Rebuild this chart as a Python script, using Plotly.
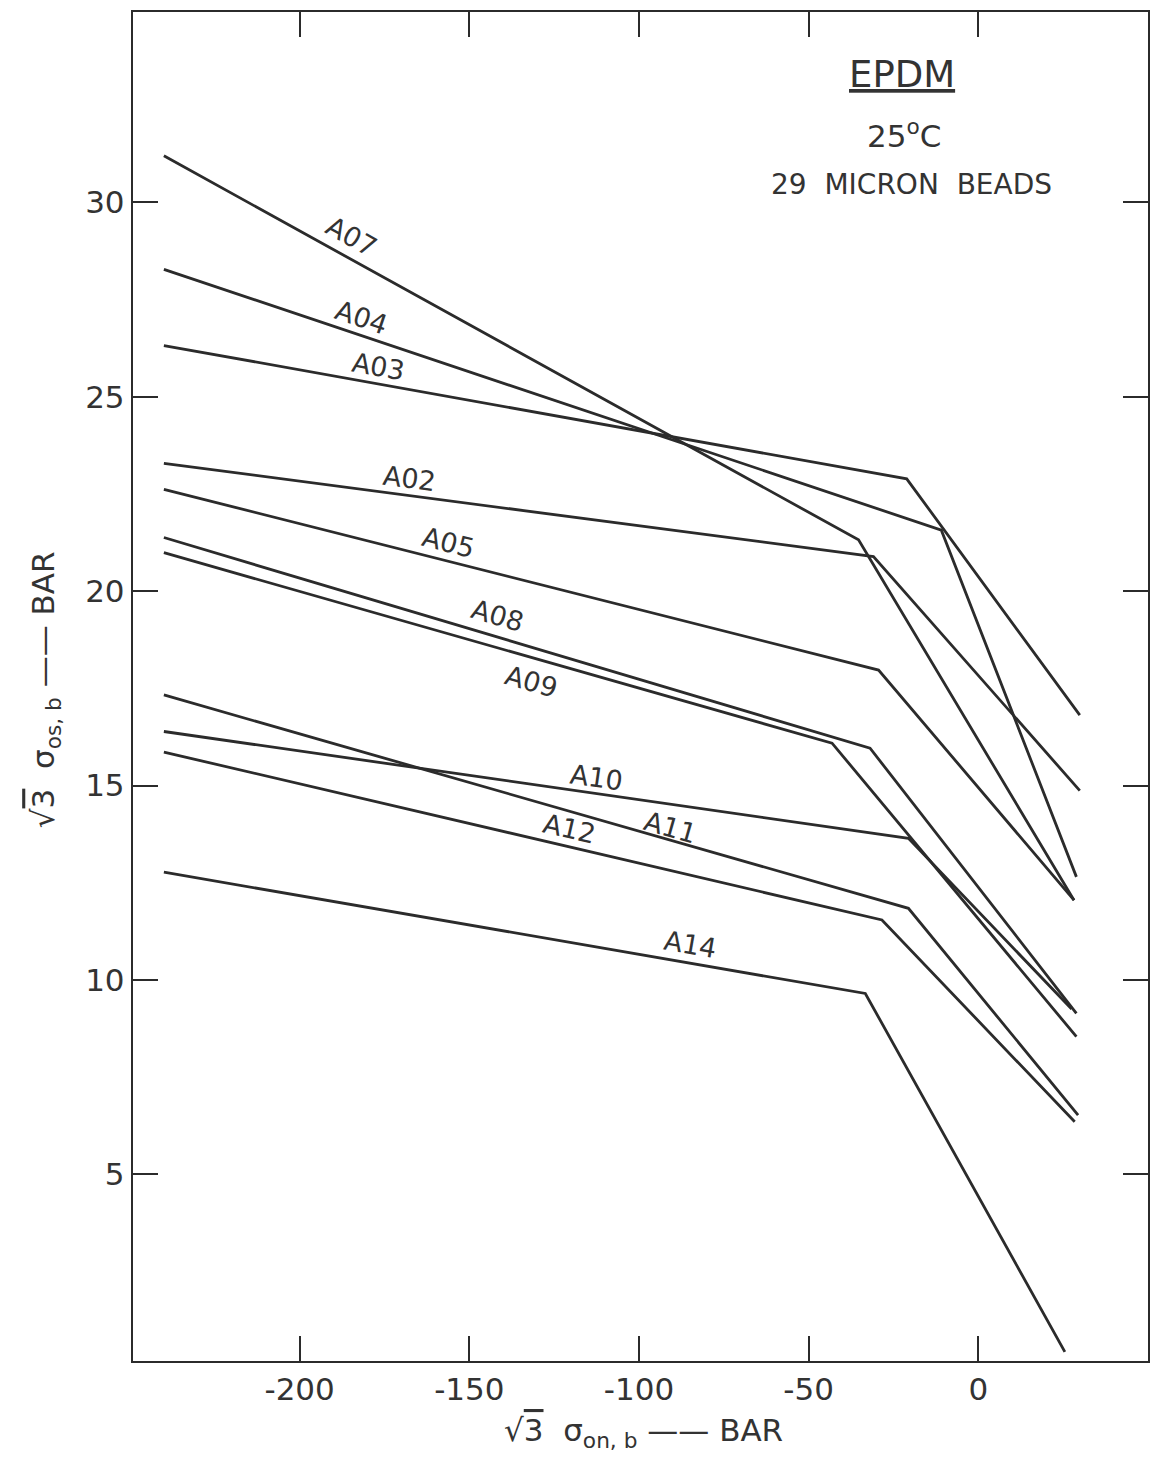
import plotly.graph_objects as go

# Bead-test envelopes for EPDM: each run is a three-point polyline
# (start, knee, end) in sqrt(3)*sigma_on,b vs sqrt(3)*sigma_os,b, bar.
series_names = ["A07", "A04", "A03", "A02", "A05", "A08", "A09", "A10", "A11", "A12", "A14"]

a07_x = [-240, -35.3, 28.2]
a07_y = [31.2, 21.32, 12.05]
a04_x = [-240, -10.9, 28.9]
a04_y = [28.28, 21.57, 12.65]
a03_x = [-240, -21.1, 29.9]
a03_y = [26.32, 22.89, 16.81]
a02_x = [-240, -30.9, 29.9]
a02_y = [23.29, 20.89, 14.87]
a05_x = [-240, -29.4, 28.2]
a05_y = [22.62, 17.97, 12.05]
a08_x = [-240, -31.9, 28.9]
a08_y = [21.38, 15.96, 9.14]
a09_x = [-240, -43.1, 28.9]
a09_y = [20.99, 16.09, 8.54]
a10_x = [-240, -20.6, 27.5]
a10_y = [16.39, 13.64, 9.25]
a11_x = [-240, -20.6, 29.4]
a11_y = [17.33, 11.84, 6.52]
a12_x = [-240, -28.4, 28.4]
a12_y = [15.86, 11.54, 6.35]
a14_x = [-240, -33.3, 25.5]
a14_y = [12.77, 9.65, 0.43]

series_x = [a07_x, a04_x, a03_x, a02_x, a05_x, a08_x, a09_x, a10_x, a11_x, a12_x, a14_x]
series_y = [a07_y, a04_y, a03_y, a02_y, a05_y, a08_y, a09_y, a10_y, a11_y, a12_y, a14_y]

# where along each line its name is lettered (x in bar), plus pixel offset and angle
label_x = [-184.7, -181.8, -176.8, -167.6, -156.2, -141.8, -131.8, -112.4, -90.6, -120.6, -84.7]
label_dy = [23, 18, 18, 17, 19, 21, -24, 16, 13, 18, 19]
label_angle = [29, 18.6, 10, 7.5, 14.2, 16.5, 15.9, 8, 16, 13, 9.8]

x_ticks = [-200, -150, -100, -50, 0]
y_ticks = [5, 10, 15, 20, 25, 30]

INK = "#2b2b2b"
TEXT = "#333333"
FONT = "DejaVu Sans"


def interp(xs, ys, x):
    for i in range(len(xs) - 1):
        if xs[i] <= x <= xs[i + 1]:
            t = (x - xs[i]) / (xs[i + 1] - xs[i])
            return ys[i] + t * (ys[i + 1] - ys[i])
    return ys[-1]


fig = go.Figure()
for name, xs, ys in zip(series_names, series_x, series_y):
    fig.add_trace(go.Scatter(
        x=xs, y=ys, mode="lines", name=name,
        line=dict(color=INK, width=2.8),
        showlegend=False, hoverinfo="skip",
    ))

annotations = []
for name, xs, ys, lx, dy, ang in zip(series_names, series_x, series_y,
                                     label_x, label_dy, label_angle):
    annotations.append(dict(
        x=lx, y=interp(xs, ys, lx), xref="x", yref="y",
        text=name, showarrow=False, textangle=ang, yshift=dy,
        xanchor="center", yanchor="middle",
        font=dict(family=FONT, size=27, color=TEXT),
    ))

# caption block
annotations += [
    dict(x=0.758, y=(1361 - 74) / 1349, xref="paper", yref="paper",
         text="<u>EPDM</u>", showarrow=False, xanchor="center", yanchor="middle",
         font=dict(family=FONT, size=37, color=TEXT)),
    dict(x=0.760, y=(1361 - 134) / 1349, xref="paper", yref="paper",
         text="25<sup>o</sup>C", showarrow=False, xanchor="center", yanchor="middle",
         font=dict(family=FONT, size=31, color=TEXT)),
    dict(x=0.767, y=(1361 - 185) / 1349, xref="paper", yref="paper",
         text="29  MICRON  BEADS", showarrow=False, xanchor="center", yanchor="middle",
         font=dict(family=FONT, size=28, color=TEXT)),
]

# axis titles
annotations += [
    dict(x=(645 - 133) / 1017, y=(1361 - 1432) / 1349, xref="paper", yref="paper",
         text="\u221a<span style='text-decoration:overline'>3</span>  \u03c3<sub>on, b</sub> \u2014\u2014 BAR",
         showarrow=False, xanchor="center", yanchor="middle",
         font=dict(family=FONT, size=31, color=TEXT)),
    dict(x=(45 - 133) / 1017, y=(1361 - 690) / 1349, xref="paper", yref="paper",
         text="\u221a<span style='text-decoration:overline'>3</span>  \u03c3<sub>os, b</sub> \u2014\u2014 BAR",
         showarrow=False, textangle=-90, xanchor="center", yanchor="middle",
         font=dict(family=FONT, size=31, color=TEXT)),
]

axis_common = dict(
    showgrid=False, zeroline=False,
    showline=True, linecolor=INK, linewidth=2.4, mirror="ticks",
    ticks="inside", ticklen=25, tickwidth=2.2, tickcolor=INK,
    tickfont=dict(family=FONT, size=31, color=TEXT),
)

fig.update_xaxes(range=[-249.1, 50.0], tickvals=x_ticks,
                 ticktext=[str(v) for v in x_ticks], **axis_common)
fig.update_yaxes(range=[0.195, 34.9], tickvals=y_ticks,
                 ticktext=[str(v) for v in y_ticks], **axis_common)

fig.update_layout(
    width=1152, height=1457,
    margin=dict(l=133, r=2, t=12, b=96),
    paper_bgcolor="white", plot_bgcolor="white",
    annotations=annotations,
    showlegend=False,
)

fig.write_html("out.html")
